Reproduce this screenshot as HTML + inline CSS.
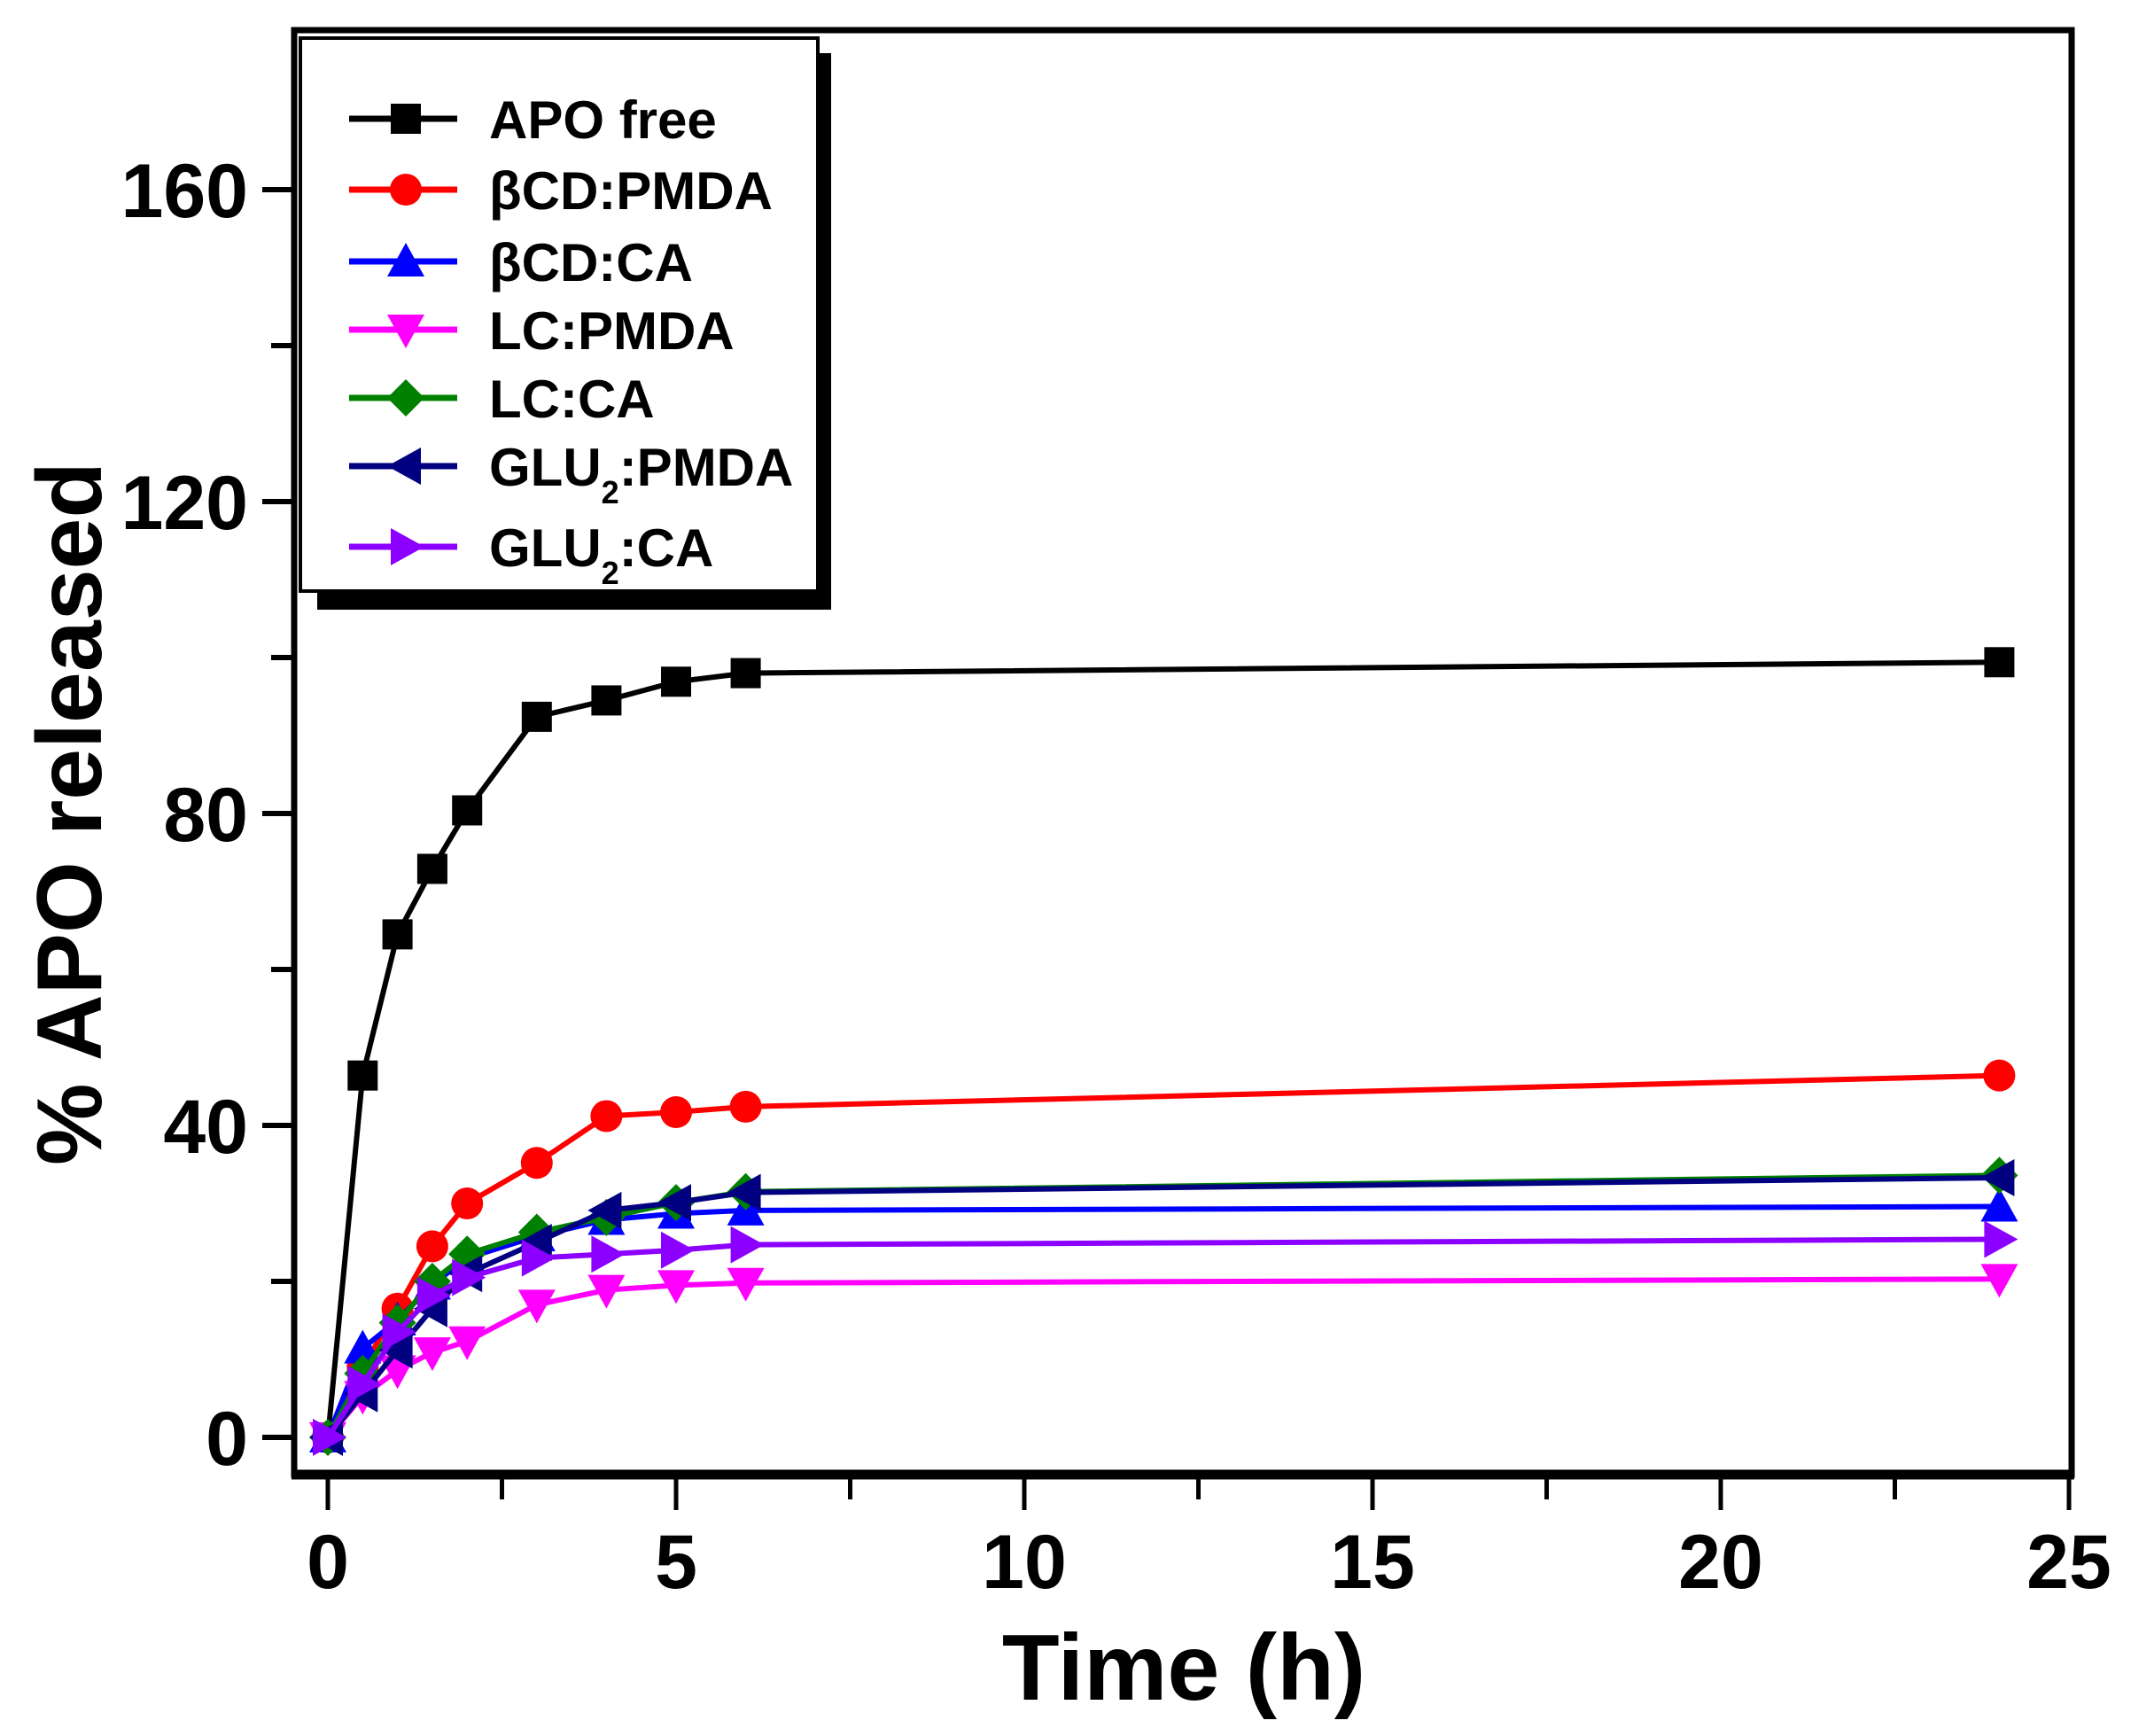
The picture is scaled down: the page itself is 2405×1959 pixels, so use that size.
<!DOCTYPE html>
<html><head><meta charset="utf-8"><style>
html,body{margin:0;padding:0;background:#fff}
svg{display:block}
text{font-family:"Liberation Sans",Arial,sans-serif;font-weight:bold}
</style></head><body>
<svg id="chart" width="2405" height="1959" viewBox="0 0 2405 1959" xmlns="http://www.w3.org/2000/svg"></svg>
<script>
const times = [0,0.5,1,1.5,2,3,4,5,6,24];
const seriesNames = ["APO free","βCD:PMDA","βCD:CA","LC:PMDA","LC:CA","GLU2:PMDA","GLU2:CA"];
const apoFree = [0,46.4,64.5,72.9,80.4,92.4,94.5,96.9,98,99.4];
const bcdPmda = [0,9,16.5,24.5,30,35.2,41.2,41.7,42.4,46.4];
const bcdCa = [0,11.4,15,19.6,23,25.8,27.9,28.7,29.1,29.6];
const lcPmda = [0,5.3,8.6,10.9,12.3,17,18.9,19.5,19.8,20.3];
const lcCa = [0,8.2,14.7,20,23.5,26.3,28.2,30.1,31.5,33.6];
const glu2Pmda = [0,5.6,11.2,16.5,21,25,29.1,30.1,31.4,33.3];
const glu2Ca = [0,6.8,13.5,18.2,20.5,23,23.5,24,24.7,25.4];
const xTicks = [0,5,10,15,20,25];
const yTicks = [0,40,80,120,160];

const NS="http://www.w3.org/2000/svg";
const svg=document.getElementById('chart');
const L=332,R=2338,T=34,B=1664;
const xs=v=>370+(v/25)*(2335-370);
const ys=v=>1622-(v/160)*(1622-214);
function mk(tag,attrs,parent){const e=document.createElementNS(NS,tag);for(const k in attrs)e.setAttribute(k,attrs[k]);(parent||svg).appendChild(e);return e;}

const frame=mk('rect',{x:L,y:T,width:R-L,height:B-T,fill:'none',stroke:'#000','stroke-width':7});


const bl=mk('line',{x1:L-3,y1:B,x2:R+3,y2:B,stroke:'#000','stroke-width':11});



for(let v=0;v<=25;v+=2.5){
  const major=(v%5===0);
  const t=mk('line',{x1:xs(v),y1:B,x2:xs(v),y2:B+(major?40:28),stroke:'#000','stroke-width':5});
  
  
}
xTicks.forEach(v=>{
  const t=mk('text',{x:xs(v),y:1792,'font-size':86,'text-anchor':'middle'});
  t.textContent=v;
  
  
});
for(let v=0;v<=170;v+=20){
  const major=(v%40===0);
  const t=mk('line',{x1:L,y1:ys(v),x2:L-(major?36:26),y2:ys(v),stroke:'#000','stroke-width':6});
  
  
}
yTicks.forEach(v=>{
  const t=mk('text',{x:280,y:ys(v)+31,'font-size':86,'text-anchor':'end'});
  t.textContent=v;
  
  
});
const xt=mk('text',{x:1336,y:1918,'font-size':106,'text-anchor':'middle'});
xt.textContent='Time (h)';


const yt=mk('text',{x:0,y:0,'font-size':104,'text-anchor':'middle',transform:'translate(114,918) rotate(-90)'});
yt.textContent='% APO released';



const colors=['#000000','#ff0000','#0000ff','#ff00ff','#008000','#000080','#8b00ff'];
const shapes=['square','circle','up','down','diamond','left','right'];
const data=[apoFree,bcdPmda,bcdCa,lcPmda,lcCa,glu2Pmda,glu2Ca];
function marker(shape,x,y,c,g){
  const s=17;let e;
  if(shape==='square')e=mk('rect',{x:x-s,y:y-s,width:2*s,height:2*s,fill:c},g);
  else if(shape==='circle')e=mk('circle',{cx:x,cy:y,r:s+1,fill:c},g);
  else{let p;
    if(shape==='up')p=[[x,y-s-4],[x+s+4,y+s],[x-s-4,y+s]];
    if(shape==='down')p=[[x,y+s+4],[x+s+4,y-s],[x-s-4,y-s]];
    if(shape==='diamond')p=[[x,y-s-4],[x+s+4,y],[x,y+s+4],[x-s-4,y]];
    if(shape==='left')p=[[x-s-4,y],[x+s,y-s-4],[x+s,y+s+4]];
    if(shape==='right')p=[[x+s+4,y],[x-s,y-s-4],[x-s,y+s+4]];
    e=mk('polygon',{points:p.map(q=>q.join(',')).join(' '),fill:c},g);}
  return e;
}
data.forEach((arr,i)=>{
  const g=mk('g',{});
  
  
  const pl=mk('polyline',{points:arr.map((v,j)=>xs(times[j])+','+ys(v)).join(' '),fill:'none',stroke:colors[i],'stroke-width':6},g);
  
  
  arr.forEach((v,j)=>{
    const m=marker(shapes[i],xs(times[j]),ys(v),colors[i],g);
    
    
  });
});

const lg=mk('g',{});


mk('rect',{x:358,y:60,width:580,height:628,fill:'#000'},lg);
mk('rect',{x:339,y:43,width:584,height:624,fill:'#fff',stroke:'#000','stroke-width':4},lg);
const ly=[134,214,295,372,449,526,617];
seriesNames.forEach((n,i)=>{
  const e=mk('g',{},lg);
  
  
  const y=ly[i];
  mk('line',{x1:394,y1:y,x2:516,y2:y,stroke:colors[i],'stroke-width':7},e);
  marker(shapes[i],458,y,colors[i],e);
  const t=mk('text',{x:552,y:y+22,'font-size':60},e);
  if(n.startsWith('GLU2')){
    t.textContent='GLU';
    const sub=mk('tspan',{'font-size':36,dy:20},t);sub.textContent='2';
    const rest=mk('tspan',{dy:-20},t);rest.textContent=n.slice(4);
  } else t.textContent=n;
});
</script>
</body></html>
